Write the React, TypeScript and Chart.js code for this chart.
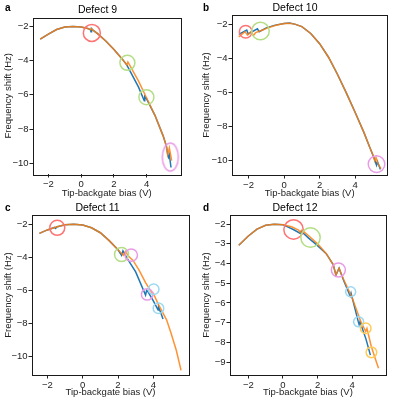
import React, { useEffect, useRef } from 'react';
import { Chart, registerables } from 'chart.js';
Chart.register(...registerables);

// ---------- data ----------
const xTicks = [-2, 0, 2, 4];
const yTicks10 = [-10, -8, -6, -4, -2];
const yTicks9 = [-9, -8, -7, -6, -5, -4, -3, -2];

// Panel a — Defect 9
const aOrangeX = [-2.5, -2.0, -1.5, -1.0, -0.5, 0.0, 0.4, 0.56, 0.62, 0.7, 1.0, 1.5, 2.0, 2.5, 2.78, 2.85, 2.95, 3.5, 4.0, 4.5, 5.0, 5.2, 5.28, 5.38, 5.52];
const aOrangeY = [-2.75, -2.45, -2.18, -2.04, -2.0, -2.03, -2.12, -2.2, -2.13, -2.2, -2.42, -2.85, -3.35, -3.9, -4.25, -4.08, -4.25, -5.2, -6.2, -7.2, -8.4, -9.0, -9.5, -9.1, -9.85];
const aBlueX = [-2.5, -2.0, -1.5, -1.0, -0.5, 0.0, 0.4, 0.56, 0.6, 0.63, 0.7, 1.0, 1.5, 2.0, 2.5, 2.78, 3.0, 3.5, 3.85, 3.88, 4.0, 4.5, 5.0, 5.2, 5.28, 5.33, 5.38, 5.48];
const aBlueY = [-2.75, -2.45, -2.18, -2.04, -2.0, -2.03, -2.12, -2.18, -2.32, -2.13, -2.2, -2.42, -2.85, -3.35, -3.9, -4.25, -4.65, -5.55, -6.35, -6.1, -6.25, -7.2, -8.4, -9.0, -9.5, -9.65, -9.5, -10.25];
const aCircleX = [0.65, 2.82, 3.98, 5.44];
const aCircleY = [-2.38, -4.13, -6.14, -9.64];

// Panel b — Defect 10
const bOrangeX = [-2.55, -2.2, -2.05, -1.85, -1.72, -1.6, -1.2, -1.0, -0.5, 0.0, 0.3, 0.6, 1.0, 1.5, 2.0, 2.5, 3.0, 3.5, 4.0, 4.5, 4.8, 5.0, 5.1, 5.17, 5.3, 5.45];
const bOrangeY = [-2.75, -2.45, -2.65, -2.42, -2.68, -2.5, -2.35, -2.25, -2.08, -1.97, -1.95, -2.0, -2.15, -2.55, -3.15, -3.95, -4.95, -6.05, -7.2, -8.4, -9.2, -9.7, -10.05, -9.85, -10.25, -10.5];
const bBlueX = [-2.55, -2.1, -2.02, -1.5, -1.4, -1.0, -0.5, 0.0, 0.3, 0.6, 1.0, 1.5, 2.0, 2.5, 3.0, 3.5, 4.0, 4.5, 4.8, 5.05, 5.2, 5.25, 5.42];
const bBlueY = [-2.6, -2.35, -2.58, -2.28, -2.45, -2.22, -2.06, -1.96, -1.94, -2.0, -2.15, -2.55, -3.15, -3.95, -4.95, -6.05, -7.2, -8.4, -9.2, -9.85, -10.3, -10.1, -10.55];
const bCircleX = [-2.16, -1.33, 5.2];
const bCircleY = [-2.45, -2.41, -10.24];

// Panel c — Defect 11
const cOrangeX = [-2.45, -2.0, -1.5, -1.0, -0.5, 0.0, 0.5, 1.0, 1.5, 2.0, 2.3, 2.42, 2.6, 2.85, 3.2, 3.56, 3.85, 3.92, 4.0, 4.3, 4.75, 5.0, 5.3, 5.57];
const cOrangeY = [-2.56, -2.35, -2.17, -2.04, -2.0, -2.05, -2.22, -2.52, -3.0, -3.55, -3.88, -3.65, -3.95, -4.2, -4.8, -5.55, -6.05, -6.15, -6.2, -6.9, -7.8, -8.6, -9.65, -10.87];
const cBlueX = [-2.45, -2.0, -1.6, -1.53, -1.48, -1.0, -0.5, 0.0, 0.5, 1.0, 1.5, 2.0, 2.2, 2.28, 2.5, 3.0, 3.56, 3.62, 3.7, 4.0, 4.27, 4.3, 4.55];
const cBlueY = [-2.56, -2.35, -2.2, -2.26, -2.17, -2.04, -2.0, -2.05, -2.22, -2.52, -3.0, -3.55, -3.88, -3.62, -4.05, -4.9, -6.3, -6.02, -6.1, -6.65, -7.2, -7.02, -7.75];
const cCircleX = [-1.44, 2.2, 2.75, 3.65, 4.02, 4.29];
const cCircleY = [-2.22, -3.84, -3.88, -6.26, -5.95, -7.1];

// Panel d — Defect 12
const dOrangeX = [-2.55, -2.0, -1.5, -1.0, -0.5, 0.0, 0.5, 0.9, 1.0, 1.1, 1.5, 2.0, 2.5, 2.9, 3.06, 3.24, 3.5, 4.0, 4.5, 4.78, 4.85, 5.1, 5.3, 5.52];
const dOrangeY = [-3.07, -2.6, -2.25, -2.06, -2.0, -2.03, -2.13, -2.3, -2.42, -2.3, -2.6, -3.0, -3.5, -4.05, -4.58, -4.24, -4.8, -5.75, -6.95, -7.45, -7.3, -8.2, -8.75, -9.32];
const dBlueX = [-2.55, -2.0, -1.5, -1.0, -0.5, 0.0, 0.3, 0.6, 1.0, 1.05, 1.5, 1.95, 2.5, 2.9, 3.06, 3.24, 3.5, 3.88, 3.93, 4.35, 4.4, 4.45, 4.8, 5.05];
const dBlueY = [-3.07, -2.6, -2.25, -2.06, -2.0, -2.03, -2.15, -2.27, -2.47, -2.36, -2.72, -3.05, -3.5, -4.05, -4.58, -4.24, -4.85, -5.65, -5.5, -6.95, -7.1, -6.95, -7.85, -8.65];
const dCircleX = [0.61, 1.59, 3.2, 3.91, 4.37, 4.78, 5.11];
const dCircleY = [-2.27, -2.68, -4.33, -5.43, -6.96, -7.29, -8.51];

// ---------- styles ----------
const RED = '#ff7373';
const GREEN = '#b4de86';
const PINK = '#e89be6';
const LBLUE = '#9dd8f3';
const YELLOW = '#ffcb58';
const BLUE_LINE = '#1f77b4';
const ORANGE_LINE = 'rgba(255,127,14,0.85)';
const FONT = '"Liberation Sans", Arial, Helvetica, sans-serif';

const zip = (xs: number[], ys: number[]) => xs.map((x, i) => ({ x, y: ys[i] }));
const fmt = (v: number) => String(v).replace('-', '\u2212');

function makeEllipse(w: number, h: number, color: string) {
  const c = document.createElement('canvas');
  c.width = w + 4;
  c.height = h + 4;
  const ctx = c.getContext('2d')!;
  ctx.strokeStyle = color;
  ctx.lineWidth = 1.5;
  ctx.beginPath();
  ctx.ellipse(c.width / 2, c.height / 2, w / 2, h / 2, 0, 0, Math.PI * 2);
  ctx.stroke();
  return c;
}

const framePlugin = {
  id: 'frame',
  afterDraw(chart: any, _args: any, opts: any) {
    const { ctx, chartArea } = chart;
    const { left, top, right, bottom } = chartArea;
    ctx.save();
    ctx.strokeStyle = '#1a1a1a';
    ctx.lineWidth = 1;
    ctx.strokeRect(Math.round(left) + 0.5, Math.round(top) + 0.5, Math.round(right - left), Math.round(bottom - top));
    ctx.fillStyle = '#000';
    ctx.font = `bold 10px ${FONT}`;
    ctx.textAlign = 'left';
    ctx.textBaseline = 'middle';
    ctx.fillText(opts.letter, 5, 8);
    ctx.restore();
  },
};

type PanelCfg = {
  letter: string;
  title: string;
  left: number; top: number; w: number; h: number;
  yW: number; xH: number; padR: number;
  xMin: number; xMax: number; yMin: number; yMax: number;
  yTicks: number[];
  orange: { x: number; y: number }[];
  blue: { x: number; y: number }[];
  circles: { x: number; y: number }[];
  circleColors: string[];
  circleRadii: number[];
  ellipse?: number;
  xTitlePad: number;
};

function Panel({ cfg }: { cfg: PanelCfg }) {
  const ref = useRef<HTMLCanvasElement>(null);
  useEffect(() => {
    const styles: any[] = cfg.circles.map(() => 'circle');
    if (cfg.ellipse !== undefined) {
      styles[cfg.ellipse] = makeEllipse(16, 28, cfg.circleColors[cfg.ellipse]);
    }
    const chart = new Chart(ref.current!, {
      type: 'line',
      data: {
        datasets: [
          {
            data: cfg.circles,
            showLine: false,
            pointStyle: styles,
            pointRadius: cfg.circleRadii,
            pointBorderColor: cfg.circleColors,
            pointBackgroundColor: 'rgba(0,0,0,0)',
            pointBorderWidth: 1.5,
            order: 0,
          } as any,
          {
            data: cfg.orange,
            borderColor: ORANGE_LINE,
            borderWidth: 1.5,
            pointRadius: 0,
            tension: 0,
            order: 1,
          },
          {
            data: cfg.blue,
            borderColor: BLUE_LINE,
            borderWidth: 1.5,
            pointRadius: 0,
            tension: 0,
            order: 2,
          },
        ],
      },
      options: {
        responsive: false,
        animation: false,
        events: [],
        layout: { padding: { left: 0, right: cfg.padR, top: 0, bottom: 0 } },
        plugins: {
          legend: { display: false },
          tooltip: { enabled: false },
          title: {
            display: true,
            text: cfg.title,
            color: '#000',
            font: { family: FONT, size: 10.5, weight: 'normal' },
            padding: { top: 1.5, bottom: 1 },
          },
          frame: { letter: cfg.letter },
        } as any,
        scales: {
          x: {
            type: 'linear',
            min: cfg.xMin,
            max: cfg.xMax,
            afterFit: (s: any) => { s.height = cfg.xH; },
            afterBuildTicks: (s: any) => { s.ticks = xTicks.map((v) => ({ value: v })); },
            ticks: { color: '#222', font: { family: FONT, size: 9.5 }, padding: 1, callback: (v: any) => fmt(v), maxRotation: 0 },
            grid: { display: true, drawOnChartArea: false, drawTicks: true, tickLength: 3.5, color: '#222' },
            border: { display: false },
            title: { display: true, text: 'Tip-backgate bias (V)', color: '#222', font: { family: FONT, size: 9.5 }, padding: { top: 0, bottom: cfg.xTitlePad } },
          },
          y: {
            type: 'linear',
            min: cfg.yMin,
            max: cfg.yMax,
            afterFit: (s: any) => { s.width = cfg.yW; },
            afterBuildTicks: (s: any) => { s.ticks = cfg.yTicks.map((v) => ({ value: v })); },
            ticks: { color: '#222', font: { family: FONT, size: 9.5 }, padding: 1, callback: (v: any) => fmt(v) },
            grid: { display: true, drawOnChartArea: false, drawTicks: true, tickLength: 3.5, color: '#222' },
            border: { display: false },
            title: { display: true, text: 'Frequency shift (Hz)', color: '#222', font: { family: FONT, size: 9.5 }, padding: { top: 3, bottom: 0 } },
          },
        },
      },
      plugins: [framePlugin],
    });
    return () => chart.destroy();
  }, []);
  return (
    <div style={{ position: 'absolute', left: cfg.left, top: cfg.top, width: cfg.w, height: cfg.h }}>
      <canvas ref={ref} width={cfg.w} height={cfg.h} style={{ width: cfg.w, height: cfg.h, display: 'block' }} />
    </div>
  );
}

const panels: PanelCfg[] = [
  {
    letter: 'a', title: 'Defect 9', left: 0, top: 0, w: 198, h: 200, yW: 33, xH: 26, padR: 3,
    xMin: -2.94, xMax: 6.06, yMin: -10.63, yMax: -1.48, yTicks: yTicks10,
    orange: zip(aOrangeX, aOrangeY), blue: zip(aBlueX, aBlueY), circles: zip(aCircleX, aCircleY),
    circleColors: [RED, GREEN, GREEN, PINK], circleRadii: [8.5, 7.5, 7.5, 16], ellipse: 3, xTitlePad: 1.3,
  },
  {
    letter: 'b', title: 'Defect 10', left: 198, top: 0, w: 199, h: 200, yW: 34, xH: 25, padR: 5,
    xMin: -2.93, xMax: 5.8, yMin: -10.88, yMax: -1.47, yTicks: yTicks10,
    orange: zip(bOrangeX, bOrangeY), blue: zip(bBlueX, bBlueY), circles: zip(bCircleX, bCircleY),
    circleColors: [RED, GREEN, PINK], circleRadii: [6.3, 8.8, 8.3], xTitlePad: 1.3,
  },
  {
    letter: 'c', title: 'Defect 11', left: 0, top: 200, w: 198, h: 201, yW: 32, xH: 26, padR: 3,
    xMin: -2.87, xMax: 6.02, yMin: -11.15, yMax: -1.45, yTicks: yTicks10,
    orange: zip(cOrangeX, cOrangeY), blue: zip(cBlueX, cBlueY), circles: zip(cCircleX, cCircleY),
    circleColors: [RED, GREEN, PINK, PINK, LBLUE, LBLUE], circleRadii: [7.5, 7, 6.2, 5.7, 5.3, 5.3], xTitlePad: 2.6,
  },
  {
    letter: 'd', title: 'Defect 12', left: 198, top: 200, w: 199, h: 201, yW: 32, xH: 26, padR: 5,
    xMin: -3.06, xMax: 5.94, yMin: -9.66, yMax: -1.54, yTicks: yTicks9,
    orange: zip(dOrangeX, dOrangeY), blue: zip(dBlueX, dBlueY), circles: zip(dCircleX, dCircleY),
    circleColors: [RED, GREEN, PINK, LBLUE, LBLUE, YELLOW, YELLOW], circleRadii: [9.7, 9.7, 7, 5, 5, 5.3, 5.3], xTitlePad: 2.6,
  },
];

export default function App() {
  return (
    <div style={{ position: 'absolute', left: 0, top: 0, width: 397, height: 401, background: '#fff' }}>
      {panels.map((p) => (
        <Panel key={p.letter} cfg={p} />
      ))}
    </div>
  );
}
